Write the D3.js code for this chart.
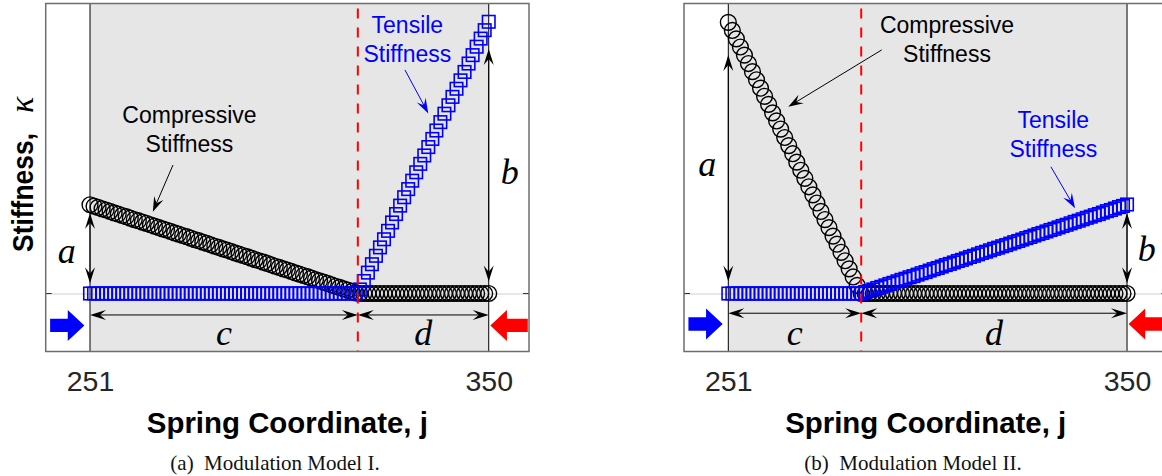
<!DOCTYPE html>
<html><head><meta charset="utf-8">
<script src="https://cdn.jsdelivr.net/npm/d3@7"></script>
<style>body{margin:0;background:#fff}svg{display:block}</style>
</head><body>
<svg id="chart" width="1162" height="476"></svg>
<script>
// ---------------- DATA ----------------
const springIndex = d3.range(251, 351);          // spring coordinate j = 251 ... 350
const xTicks = [251, 350];
const yTicks = [0];
const splitPoints = [317.5, 284];                 // boundary between c and d
const captions = ["(a)\u2002Modulation Model I.", "(b)\u2002Modulation Model II."];
const xLabel = "Spring Coordinate, j";
const yLabel = "Stiffness,";
const seriesNames = ["Compressive", "Tensile"];

const model1Compressive = [
  .306,.301,.297,.292,.288,.283,.278,.274,.269,.265,
  .260,.255,.251,.246,.242,.237,.232,.228,.223,.219,
  .214,.209,.205,.200,.196,.191,.186,.182,.177,.173,
  .168,.163,.159,.154,.150,.145,.140,.136,.131,.127,
  .122,.117,.113,.108,.104,.099,.094,.090,.085,.081,
  .076,.071,.067,.062,.058,.053,.048,.044,.039,.035,
  .030,.025,.021,.016,.012,.007,.002,
  0,0,0,
  0,0,0,0,0,0,0,0,0,0,
  0,0,0,0,0,0,0,0,0,0,
  0,0,0,0,0,0,0,0,0,0
];
const model1Tensile = [
  0,0,0,0,0,0,0,0,0,0,
  0,0,0,0,0,0,0,0,0,0,
  0,0,0,0,0,0,0,0,0,0,
  0,0,0,0,0,0,0,0,0,0,
  0,0,0,0,0,0,0,0,0,0,
  0,0,0,0,0,0,0,0,0,0,
  0,0,0,0,0,0,0,
  .014,.043,.072,.101,.130,.159,.187,.216,.245,.274,
  .303,.332,.360,.389,.418,.447,.476,.505,.533,.562,
  .591,.620,.649,.678,.706,.735,.764,.793,.822,.851,
  .879,.908,.937
];
const model2Compressive = [
  .935,.907,.878,.850,.822,.793,.765,.737,.708,.680,
  .652,.623,.595,.567,.538,.510,.482,.453,.425,.397,
  .368,.340,.312,.283,.255,.227,.198,.170,.142,.113,
  .085,.057,.028,
  0,0,0,0,0,0,0,
  0,0,0,0,0,0,0,0,0,0,
  0,0,0,0,0,0,0,0,0,0,
  0,0,0,0,0,0,0,0,0,0,
  0,0,0,0,0,0,0,0,0,0,
  0,0,0,0,0,0,0,0,0,0,
  0,0,0,0,0,0,0,0,0,0
];
const model2Tensile = [
  0,0,0,0,0,0,0,0,0,0,
  0,0,0,0,0,0,0,0,0,0,
  0,0,0,0,0,0,0,0,0,0,
  0,0,0,0,
  .005,.009,.014,.019,.023,.028,.033,.037,.042,.047,
  .051,.056,.060,.065,.070,.074,.079,.084,.088,.093,
  .098,.102,.107,.112,.116,.121,.126,.130,.135,.140,
  .144,.149,.154,.158,.163,.167,.172,.177,.181,.186,
  .191,.195,.200,.205,.209,.214,.219,.223,.228,.233,
  .237,.242,.247,.251,.256,.261,.265,.270,.274,.279,
  .284,.288,.293,.298,.302,.307
];

// ---------------- LAYOUT ----------------
const svg = d3.select("#chart");
const SANS = "'Liberation Sans', Arial, sans-serif";
const SERIF = "'Liberation Serif', 'Times New Roman', serif";
const BLUE = "#0000ff", RED = "#ff0000";
const yScale = d3.scaleLinear().domain([-0.2, 1.0]).range([351.5, 3.5]);

const panels = [
  { comp: model1Compressive, tens: model1Tensile, split: splitPoints[0], caption: captions[0],
    range: [45.7, 529], capX: 275, showYLabel: true,
    compText: [275.7, 0.587], compArrow: [[271.6, 0.443], [266.6, 0.282]],
    tensText: [329.8, 0.899], tensArrow: [[329.2, 0.771], [335.0, 0.621]],
    aArrow: [0.278, 0.035], bArrow: [0.843, 0.041], dimY: -0.074,
    aLabel: [245.2, 0.104], bLabel: [355.2, 0.379], cdY: -0.178, fatY: -0.11 },
  { comp: model2Compressive, tens: model2Tensile, split: splitPoints[1], caption: captions[1],
    range: [684, 1167.3], capX: 913, showYLabel: false,
    compText: [305.3, 0.899], compArrow: [[289.1, 0.840], [265.9, 0.644]],
    tensText: [331.7, 0.570], tensArrow: [[331.1, 0.437], [337.1, 0.294]],
    aArrow: [0.822, 0.041], bArrow: [0.278, 0.035], dimY: -0.068,
    aLabel: [245.8, 0.405], bLabel: [354.9, 0.113], cdY: -0.178, fatY: -0.105 }
];

function arrowHead(g, tx, ty, ang, L, Wd, color) {
  const c = Math.cos(ang), s = Math.sin(ang);
  const pt = (u, v) => [tx + u * c - v * s, ty + u * s + v * c];
  const pts = [pt(0, 0), pt(-L, Wd / 2), pt(-L * 0.62, 0), pt(-L, -Wd / 2)];
  g.append("path").attr("d", "M" + pts.map(p => p.join(",")).join("L") + "Z")
    .attr("fill", color).attr("stroke", "none");
}
function arrow(g, x1, y1, x2, y2, opts) {
  const { color = "#000", L = 16, Wd = 10, both = false, sw = 1 } = opts || {};
  const ang = Math.atan2(y2 - y1, x2 - x1);
  const off = L * 0.6;
  const sx = both ? x1 + off * Math.cos(ang) : x1, sy = both ? y1 + off * Math.sin(ang) : y1;
  const ex = x2 - off * Math.cos(ang), ey = y2 - off * Math.sin(ang);
  g.append("line").attr("x1", sx).attr("y1", sy).attr("x2", ex).attr("y2", ey)
    .attr("stroke", color).attr("stroke-width", sw);
  arrowHead(g, x2, y2, ang, L, Wd, color);
  if (both) arrowHead(g, x1, y1, ang + Math.PI, L, Wd, color);
}

panels.forEach((P, pi) => {
  const x = d3.scaleLinear().domain([240, 360]).range(P.range);
  const g = svg.append("g");
  const [bx0, bx1] = P.range, [by1, by0] = yScale.range();

  // shaded spring region
  g.append("rect").attr("x", x(251)).attr("y", by0).attr("width", x(350) - x(251))
    .attr("height", by1 - by0).attr("fill", "#e6e6e6");

  // baseline gridline (y axis)
  const yAx = d3.axisLeft(yScale).tickValues(yTicks).tickSize(-(bx1 - bx0)).tickFormat("");
  g.append("g").attr("transform", `translate(${bx0},0)`).call(yAx)
    .call(a => a.select(".domain").remove())
    .selectAll("line").attr("stroke", "#d0d0d0").attr("stroke-width", 1);
  yTicks.forEach(t => {
    g.append("line").attr("x1", bx0).attr("x2", bx0 + 6).attr("y1", yScale(t)).attr("y2", yScale(t)).attr("stroke", "#333");
    g.append("line").attr("x1", bx1 - 6).attr("x2", bx1).attr("y1", yScale(t)).attr("y2", yScale(t)).attr("stroke", "#333");
  });

  // vertical lines at 251 and 350
  xTicks.forEach(t => g.append("line").attr("x1", x(t)).attr("x2", x(t))
    .attr("y1", by0).attr("y2", by1).attr("stroke", "#000").attr("stroke-width", 1));

  // compressive circles
  g.append("g").selectAll("circle").data(springIndex).join("circle")
    .attr("cx", j => x(j)).attr("cy", (j, i) => yScale(P.comp[i])).attr("r", 7.9)
    .attr("fill", "none").attr("stroke", "#000").attr("stroke-width", 1.4);
  // tensile squares
  const S = 12.5;
  g.append("g").selectAll("rect").data(springIndex).join("rect")
    .attr("x", j => x(j) - S / 2).attr("y", (j, i) => yScale(P.tens[i]) - S / 2)
    .attr("width", S).attr("height", S)
    .attr("fill", "none").attr("stroke", BLUE).attr("stroke-width", 1.6);

  // red dashed split line
  g.append("line").attr("x1", x(P.split)).attr("x2", x(P.split)).attr("y1", by0).attr("y2", by1)
    .attr("stroke", RED).attr("stroke-width", 2).attr("stroke-dasharray", "10,9").attr("stroke-dashoffset", 14);

  // dimension arrows
  arrow(g, x(251), yScale(P.aArrow[0]), x(251), yScale(P.aArrow[1]), { both: true });
  arrow(g, x(350), yScale(P.bArrow[0]), x(350), yScale(P.bArrow[1]), { both: true });
  arrow(g, x(251), yScale(P.dimY), x(P.split), yScale(P.dimY), { both: true });
  arrow(g, x(P.split), yScale(P.dimY), x(350), yScale(P.dimY), { both: true });

  // letter labels
  const letter = (txt, j, v) => g.append("text").attr("x", x(j)).attr("y", yScale(v))
    .attr("text-anchor", "middle").attr("font-family", SERIF).attr("font-style", "italic")
    .attr("font-size", 36).attr("fill", "#000").text(txt);
  letter("a", P.aLabel[0], P.aLabel[1]);
  letter("b", P.bLabel[0], P.bLabel[1]);
  letter("c", (251 + P.split) / 2, P.cdY);
  letter("d", (P.split + 350) / 2, P.cdY);

  // series annotations
  const twoLine = (first, j, v, color) => {
    const t = g.append("text").attr("x", x(j)).attr("y", yScale(v)).attr("text-anchor", "middle")
      .attr("font-family", SANS).attr("font-size", 23).attr("fill", color);
    t.append("tspan").attr("x", x(j)).text(first);
    t.append("tspan").attr("x", x(j)).attr("dy", 29).text("Stiffness");
  };
  twoLine(seriesNames[0], P.compText[0], P.compText[1], "#000");
  twoLine(seriesNames[1], P.tensText[0], P.tensText[1], BLUE);
  arrow(g, x(P.compArrow[0][0]), yScale(P.compArrow[0][1]), x(P.compArrow[1][0]), yScale(P.compArrow[1][1]), { L: 15, Wd: 10 });
  arrow(g, x(P.tensArrow[0][0]), yScale(P.tensArrow[0][1]), x(P.tensArrow[1][0]), yScale(P.tensArrow[1][1]), { L: 15, Wd: 10, color: BLUE });

  // fat direction arrows
  const cy = yScale(P.fatY), bh = 6.7, hh = 15.5, hl = 16.6;
  const bxs = x(241.1), bxt = x(249.6);
  g.append("path").attr("fill", BLUE).attr("d",
    `M${bxs},${cy - bh}L${bxt - hl},${cy - bh}L${bxt - hl},${cy - hh}L${bxt},${cy}L${bxt - hl},${cy + hh}L${bxt - hl},${cy + bh}L${bxs},${cy + bh}Z`);
  const rxs = x(359.7), rxt = x(350.4);
  g.append("path").attr("fill", RED).attr("d",
    `M${rxs},${cy - bh}L${rxt + hl},${cy - bh}L${rxt + hl},${cy - hh}L${rxt},${cy}L${rxt + hl},${cy + hh}L${rxt + hl},${cy + bh}L${rxs},${cy + bh}Z`);

  // box
  g.append("rect").attr("x", bx0).attr("y", by0).attr("width", bx1 - bx0).attr("height", by1 - by0)
    .attr("fill", "none").attr("stroke", "#6e6e6e").attr("stroke-width", 1.5);

  // x axis tick labels
  const xAx = d3.axisBottom(x).tickValues(xTicks).tickSize(0).tickPadding(19).tickFormat(d3.format("d"));
  const ax = g.append("g").attr("transform", `translate(0,${by1})`).call(xAx);
  ax.select(".domain").remove();
  ax.attr("font-family", SANS).attr("font-size", 28.5);
  ax.selectAll("text").attr("fill", "#262626");

  // x axis label
  g.append("text").attr("x", (bx0 + bx1) / 2).attr("y", 432.5).attr("text-anchor", "middle")
    .attr("font-family", SANS).attr("font-weight", "bold").attr("font-size", 30)
    .attr("textLength", 281).attr("lengthAdjust", "spacingAndGlyphs").text(xLabel);

  // caption
  g.append("text").attr("x", P.capX).attr("y", 470).attr("text-anchor", "middle")
    .attr("font-family", SERIF).attr("font-size", 21).attr("fill", "#111").text(P.caption);

  // y label
  if (P.showYLabel) {
    g.append("text").attr("transform", "translate(33,252) rotate(-90)")
      .attr("font-family", SANS).attr("font-weight", "bold").attr("font-size", 30)
      .attr("textLength", 119).attr("lengthAdjust", "spacingAndGlyphs").text(yLabel);
    g.append("text").attr("transform", "translate(33,113) rotate(-90)")
      .attr("font-family", SERIF).attr("font-style", "italic").attr("font-size", 34).text("\u03ba");
  }
});
</script>
</body></html>
